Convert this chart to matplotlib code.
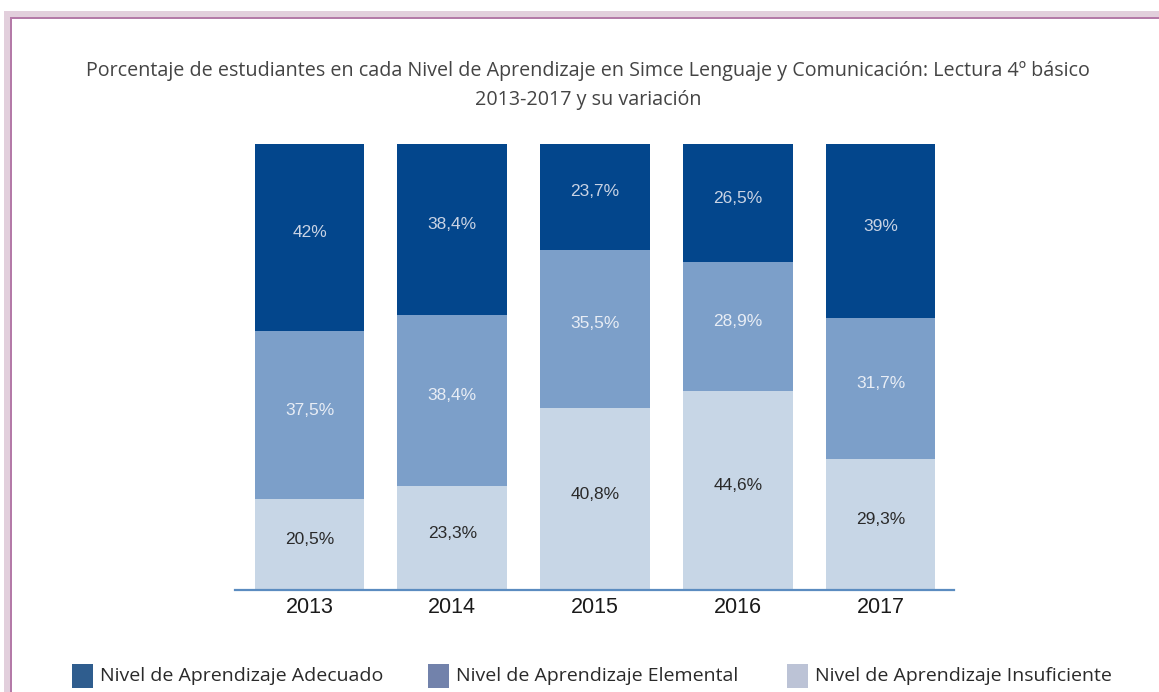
import matplotlib
matplotlib.use('Agg')
import matplotlib.pyplot as plt
from matplotlib.patches import Rectangle

# datos
years = ['2013', '2014', '2015', '2016', '2017']
insuficiente = [20.5, 23.3, 40.8, 44.6, 29.3]
elemental = [37.5, 38.4, 35.5, 28.9, 31.7]
adecuado = [42, 38.4, 23.7, 26.5, 39]
labels_ins = ['20,5%', '23,3%', '40,8%', '44,6%', '29,3%']
labels_ele = ['37,5%', '38,4%', '35,5%', '28,9%', '31,7%']
labels_ade = ['42%', '38,4%', '23,7%', '26,5%', '39%']
legend_names = ['Nivel de Aprendizaje Adecuado',
                'Nivel de Aprendizaje Elemental',
                'Nivel de Aprendizaje Insuficiente']

W, H = 1159, 692
fig = plt.figure(figsize=(W / 100, H / 100), dpi=100, facecolor='white')

def px(x, y):
    return x / W, 1 - y / H

# marco rosado (arriba e izquierda), detras de todo
for x0, y0, col in [(4, 11, '#e2cfdc'), (10, 17, '#b47aa8'), (12, 19, 'white')]:
    fig.patches.append(Rectangle(px(x0, H), (W - x0) / W, (H - y0) / H,
                                 transform=fig.transFigure, facecolor=col,
                                 edgecolor='none', zorder=-10))

ax = fig.add_axes([235 / W, 1 - 590 / H, 719 / W, 446 / H])
ax.set_zorder(2)
ax.set_facecolor('none')

c_ade = '#03468c'
c_ele = '#7c9fc9'
c_ins = '#c7d6e6'
x = range(len(years))
w = 0.77

bottom2 = [a + b for a, b in zip(insuficiente, elemental)]
ax.bar(x, insuficiente, w, color=c_ins, clip_on=False)
ax.bar(x, elemental, w, bottom=insuficiente, color=c_ele, clip_on=False)
ax.bar(x, adecuado, w, bottom=bottom2, color=c_ade, clip_on=False)

lab_fs = 12.5
for i in x:
    ax.text(i, insuficiente[i] / 2 + 1.1, labels_ins[i], ha='center', va='center',
            fontsize=lab_fs, color='#2a2a2a', family='Liberation Sans')
    ax.text(i, insuficiente[i] + elemental[i] / 2 + 1.1, labels_ele[i], ha='center',
            va='center', fontsize=lab_fs, color='#e8edf5', family='Liberation Sans')
    ax.text(i, bottom2[i] + adecuado[i] / 2 + 1.1, labels_ade[i], ha='center',
            va='center', fontsize=lab_fs, color='#c9d3e4', family='Liberation Sans')

ax.set_xlim(-0.522, 4.515)
ax.set_ylim(0, 100)
for s in ['top', 'right', 'left']:
    ax.spines[s].set_visible(False)
ax.spines['bottom'].set_color('#5b8cc0')
ax.spines['bottom'].set_linewidth(1.6)
ax.set_yticks([])
ax.set_xticks(list(x))
ax.set_xticklabels(years, fontsize=15.5, color='#1a1a1a', family='Liberation Sans')
ax.tick_params(axis='x', length=0, pad=5)

fig.text(588 / W, 1 - 71 / H,
         'Porcentaje de estudiantes en cada Nivel de Aprendizaje en Simce Lenguaje y Comunicación: Lectura 4º básico',
         ha='center', va='center', fontsize=14.2, color='#444444', family='Open Sans')
fig.text(588 / W, 1 - 100 / H, '2013-2017 y su variación',
         ha='center', va='center', fontsize=14.2, color='#444444', family='Open Sans')

# leyenda a mano
leg_colors = ['#2f5d8e', '#7282ab', '#bcc3d6']
leg_x = [72, 428, 787]
for lx, col, name in zip(leg_x, leg_colors, legend_names):
    fig.patches.append(Rectangle(px(lx, 688), 21 / W, 24 / H,
                                 transform=fig.transFigure, facecolor=col,
                                 edgecolor='none'))
    fig.text((lx + 28) / W, 1 - 676 / H, name, ha='left', va='center',
             fontsize=14, color='#2a2a2a', family='Open Sans')

fig.savefig('out.png', dpi=100, facecolor='white')
